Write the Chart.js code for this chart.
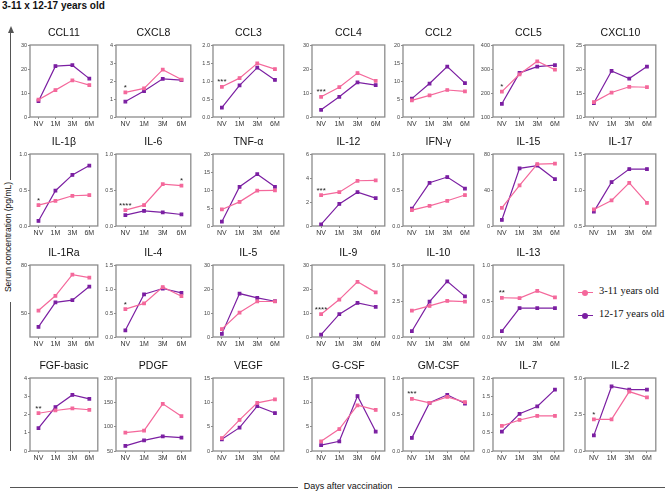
<!DOCTYPE html>
<html>
<head>
<meta charset="utf-8">
<script src="https://cdn.jsdelivr.net/npm/chart.js@4.4.0/dist/chart.umd.min.js"></script>
<style>
    body { margin: 0; background: #fff; width: 668px; height: 495px; position: relative; overflow: hidden;
           font-family: "Liberation Sans", Arial, sans-serif; color: #111; }
    canvas { position: absolute; }
    .abs { position: absolute; }
    .legend-line { position: absolute; height: 0; width: 15px; }
    .legend-dot { position: absolute; width: 6px; height: 6px; border-radius: 50%; }
    .legend-text { position: absolute; font-family: "Liberation Serif", "Times New Roman", serif; font-size: 10.5px; white-space: nowrap; }
</style>
</head>
<body>
<div class="abs" style="left:2px;top:0px;font-weight:bold;font-size:10px;">3-11 x 12-17 years old</div>

<!-- y axis arrow + label -->
<div class="abs" style="left:10px;top:32px;width:1.4px;height:148px;background:#555;"></div>
<div class="abs" style="left:7.7px;top:26px;width:0;height:0;border-left:3px solid transparent;border-right:3px solid transparent;border-bottom:7px solid #555;"></div>
<div class="abs" style="left:-52px;top:232px;width:120px;text-align:center;font-size:8.5px;transform:rotate(-90deg);white-space:nowrap;">Serum concentration (pg/mL)</div>
<div class="abs" style="left:10px;top:302px;width:1.4px;height:149px;background:#555;"></div>

<!-- x axis label -->
<div class="abs" style="left:10px;top:487px;width:288px;height:1px;background:#555;"></div>
<div class="abs" style="left:300px;top:481px;width:96px;text-align:center;font-size:9px;white-space:nowrap;">Days after vaccination</div>
<div class="abs" style="left:398px;top:487px;width:267px;height:1px;background:#555;"></div>

<!-- legend -->
<div class="legend-line" style="left:578px;top:292px;border-top:1.3px solid #f4689b;"></div>
<div class="legend-dot" style="left:582px;top:289.5px;background:#f4689b;"></div>
<div class="legend-text" style="left:599px;top:285px;">3-11 years old</div>
<div class="legend-line" style="left:578px;top:315px;border-top:1.3px solid #7b1fa2;"></div>
<div class="legend-dot" style="left:582px;top:312.5px;background:#7b1fa2;"></div>
<div class="legend-text" style="left:599px;top:308px;">12-17 years old</div>

<script>
const categories = ['NV', '1M', '3M', '6M'];

const panelNames = [
    'CCL11', 'CXCL8', 'CCL3', 'CCL4', 'CCL2', 'CCL5', 'CXCL10',
    'IL-1β', 'IL-6', 'TNF-α', 'IL-12', 'IFN-γ', 'IL-15', 'IL-17',
    'IL-1Ra', 'IL-4', 'IL-5', 'IL-9', 'IL-10', 'IL-13',
    'FGF-basic', 'PDGF', 'VEGF', 'G-CSF', 'GM-CSF', 'IL-7', 'IL-2'
];

// 3-11 years old
const youngValues = [
    [7.2, 11.2, 15.3, 13.3], [1.37, 1.59, 2.63, 2.08], [0.84, 1.08, 1.49, 1.33], [8.4, 12.4, 18.3, 15.1],
    [4.6, 6.0, 7.5, 7.1], [206, 278, 332, 297], [13.1, 15.1, 16.3, 16.2],
    [0.29, 0.35, 0.42, 0.43], [0.22, 0.29, 0.58, 0.56], [4.6, 6.7, 9.8, 9.9], [2.57, 2.82, 3.77, 3.8],
    [0.22, 0.28, 0.35, 0.43], [20.2, 45.2, 68.8, 69.2], [0.73, 0.855, 1.10, 0.82],
    [51.9, 61, 74, 72.2], [0.58, 0.70, 1.04, 0.85], [3.3, 10.2, 14.8, 14.8], [9.5, 15.6, 23.0, 18.6],
    [1.83, 2.16, 2.51, 2.46], [0.545, 0.54, 0.64, 0.55],
    [2.07, 2.22, 2.34, 2.26], [87.8, 92, 147, 121.5], [2.66, 6.4, 9.9, 10.6], [2.0, 4.5, 9.4, 8.45],
    [0.715, 0.66, 0.74, 0.67], [0.69, 0.85, 0.96, 0.96], [2.17, 2.17, 4.07, 3.67]
];

// 12-17 years old
const teenValues = [
    [6.6, 21.2, 21.6, 16.0], [0.86, 1.44, 2.12, 2.05], [0.26, 0.88, 1.37, 1.03], [3.0, 8.4, 14.4, 13.3],
    [5.1, 9.3, 14.0, 9.4], [155, 284, 310, 316], [12.9, 19.6, 18.0, 20.5],
    [0.07, 0.49, 0.71, 0.84], [0.15, 0.21, 0.19, 0.16], [1.2, 10.9, 14.4, 10.9], [0.14, 1.84, 2.82, 2.32],
    [0.24, 0.60, 0.68, 0.52], [6.7, 64, 67, 52], [0.70, 1.11, 1.29, 1.29],
    [41.8, 57, 58.3, 66.7], [0.14, 0.89, 1.01, 0.92], [1.3, 18.1, 16.3, 14.9], [1.0, 9.5, 14.2, 12.6],
    [0.4, 2.46, 3.87, 2.82], [0.08, 0.40, 0.40, 0.40],
    [1.25, 2.41, 3.07, 2.86], [60.5, 71.7, 80, 77.3], [2.4, 4.8, 9.2, 7.8], [1.2, 2.0, 11.3, 4.0],
    [0.18, 0.66, 0.77, 0.65], [0.53, 1.02, 1.22, 1.68], [1.07, 4.42, 4.21, 4.21]
];

const yTickLabels = [
    ['0', '10', '20', '30'], ['0', '1', '2', '3', '4'], ['0.0', '0.5', '1.0', '1.5', '2.0'], ['0', '10', '20', '30'],
    ['0', '5', '10', '15', '20'], ['100', '200', '300', '400'], ['10', '15', '20', '25'],
    ['0.0', '0.5', '1.0'], ['0.0', '0.5', '1.0'], ['0', '5', '10', '15', '20'], ['0', '2', '4', '6'],
    ['0.0', '0.5', '1.0'], ['0', '40', '80'], ['0.5', '1.0', '1.5'],
    ['50', '80'], ['0.0', '0.5', '1.0', '1.5'], ['0', '10', '20', '30'], ['0', '10', '20', '30'],
    ['0.0', '2.5', '5.0'], ['0.0', '0.5', '1.0'],
    ['0', '1', '2', '3', '4'], ['50', '100', '150', '200'], ['0', '5', '10', '15'], ['0', '5', '10', '15'],
    ['0.0', '0.5', '1.0'], ['0.0', '0.5', '1.0', '1.5', '2.0'], ['0.0', '2.5', '5.0']
];

// axis ranges where the bottom is not the first tick
const yMinOverride = { 'IL-1Ra': 35.6 };

// significance marks: [category index, text]
const stars = {
    'CXCL8': [[0, '*']], 'CCL3': [[0, '***']], 'CCL4': [[0, '***']], 'CCL5': [[0, '*']],
    'IL-1β': [[0, '*']], 'IL-6': [[0, '****'], [3, '*']], 'IL-12': [[0, '***']],
    'IL-4': [[0, '*']], 'IL-9': [[0, '****']], 'IL-13': [[0, '**']],
    'FGF-basic': [[0, '**']], 'GM-CSF': [[0, '***']], 'IL-2': [[0, '*']]
};

const PINK = '#f4689b', PURPLE = '#7b1fa2';
const FONT = '"Liberation Sans", Arial, sans-serif';

// layout of the grid
const colLeft = [30, 116, 213, 312, 403, 493, 585];
const colRight = [100, 193, 286, 387, 476, 566, 658];
const rowBox = [[45, 117], [154, 226], [265, 337], [378, 451]];
const rowCounts = [7, 7, 6, 7];

const Y_W = 28, X_H = 16, PAD_R = 3, TITLE_H = 24;

const framePlugin = {
    id: 'frame',
    beforeDatasetsDraw(chart) {
        const { ctx, chartArea: a } = chart;
        ctx.save();
        ctx.strokeStyle = '#8c8c8c';
        ctx.lineWidth = 1.3;
        ctx.strokeRect(a.left, a.top, a.right - a.left, a.bottom - a.top);
        ctx.restore();
    }
};

// panel title centred over the plot box
const panelTitle = {
    id: 'panelTitle',
    afterDraw(chart, args, opts) {
        const { ctx, chartArea: a } = chart;
        ctx.save();
        ctx.fillStyle = '#111';
        ctx.font = `10.5px ${FONT}`;
        ctx.textAlign = 'center';
        ctx.textBaseline = 'middle';
        ctx.fillText(opts.text, (a.left + a.right) / 2, a.top - 12);
        ctx.restore();
    }
};

const starPlugin = {
    id: 'stars',
    afterDatasetsDraw(chart, args, opts) {
        const marks = opts.marks || [];
        const { ctx } = chart;
        const xs = chart.scales.x, ys = chart.scales.y;
        ctx.save();
        ctx.fillStyle = '#222';
        ctx.font = `8px ${FONT}`;
        ctx.textAlign = 'center';
        ctx.textBaseline = 'alphabetic';
        marks.forEach(([i, txt]) => {
            const yTop = Math.min(...chart.data.datasets.map(d => ys.getPixelForValue(d.data[i])));
            ctx.fillText(txt, xs.getPixelForValue(i), yTop - 2.5);
        });
        ctx.restore();
    }
};

let k = 0;
rowCounts.forEach((count, row) => {
    for (let col = 0; col < count; col++, k++) {
        const name = panelNames[k];
        const labels = yTickLabels[k];
        const vals = labels.map(parseFloat);
        const [boxTop, boxBottom] = rowBox[row];
        const boxW = colRight[col] - colLeft[col];
        const boxH = boxBottom - boxTop;

        const canvas = document.createElement('canvas');
        const w = Y_W + boxW + PAD_R, h = TITLE_H + boxH + X_H;
        canvas.width = w; canvas.height = h;
        canvas.style.width = w + 'px'; canvas.style.height = h + 'px';
        canvas.style.left = (colLeft[col] - Y_W) + 'px';
        canvas.style.top = (boxTop - TITLE_H) + 'px';
        document.body.appendChild(canvas);

        const tickGrid = { display: true, drawOnChartArea: false, drawTicks: true, tickLength: 2, color: '#8c8c8c', lineWidth: 1 };

        new Chart(canvas.getContext('2d'), {
            type: 'line',
            data: {
                labels: categories,
                datasets: [
                    { label: '3-11 years old', data: youngValues[k], borderColor: PINK, backgroundColor: PINK,
                      borderWidth: 1.2, pointStyle: 'rect', pointRadius: 1.8, tension: 0 },
                    { label: '12-17 years old', data: teenValues[k], borderColor: PURPLE, backgroundColor: PURPLE,
                      borderWidth: 1.2, pointStyle: 'rect', pointRadius: 1.8, tension: 0 }
                ]
            },
            options: {
                responsive: false,
                animation: false,
                layout: { padding: { left: 0, right: PAD_R, top: TITLE_H, bottom: 0 } },
                plugins: {
                    legend: { display: false },
                    tooltip: { enabled: false },
                    title: { display: false },
                    panelTitle: { text: name },
                    stars: { marks: stars[name] || [] }
                },
                scales: {
                    x: {
                        type: 'category', offset: true,
                        grid: tickGrid, border: { display: false },
                        ticks: { font: { size: 7, family: FONT }, color: '#333', padding: 1, maxRotation: 0, autoSkip: false },
                        afterFit: s => { s.height = X_H; }
                    },
                    y: {
                        min: yMinOverride[name] !== undefined ? yMinOverride[name] : vals[0],
                        max: vals[vals.length - 1],
                        grid: tickGrid, border: { display: false },
                        ticks: { font: { size: 5.5, family: FONT }, color: '#444', padding: 1,
                                 callback: v => labels[vals.indexOf(v)] },
                        afterBuildTicks: s => { s.ticks = vals.map(v => ({ value: v })); },
                        afterFit: s => { s.width = Y_W; }
                    }
                }
            },
            plugins: [framePlugin, panelTitle, starPlugin]
        });
    }
});
</script>
</body>
</html>
